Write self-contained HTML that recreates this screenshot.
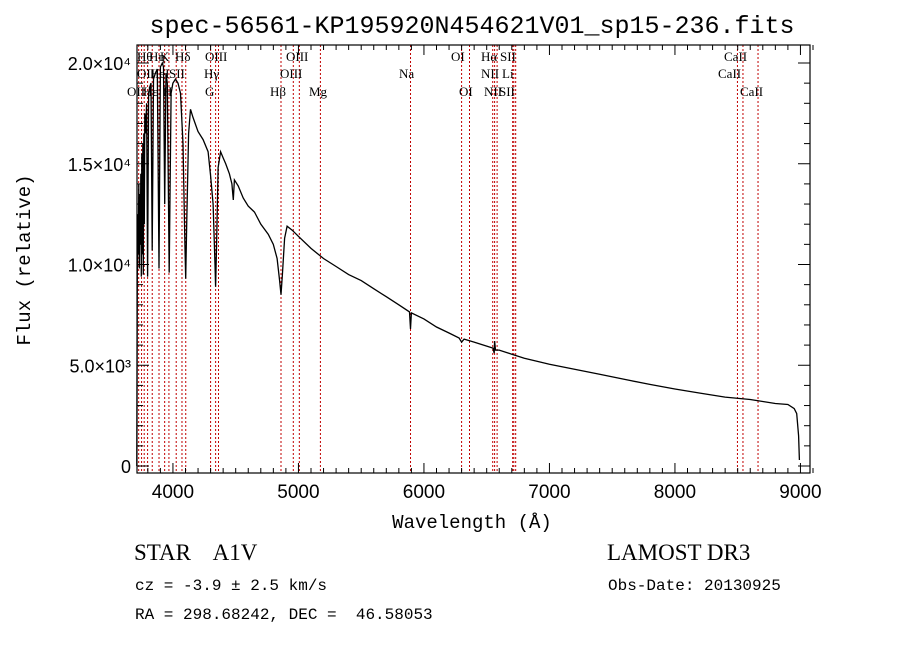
<!DOCTYPE html>
<html><head><meta charset="utf-8"><style>
html,body{margin:0;padding:0;background:#fff;}
svg{display:block;}
text{font-family:"Liberation Serif",serif;fill:#000;white-space:pre;}
.mono{font-family:"Liberation Mono","DejaVu Sans Mono",monospace;}
.sans{font-family:"Liberation Sans",sans-serif;}
</style></head><body>
<svg id="chart" width="900" height="649" viewBox="0 0 900 649" xmlns="http://www.w3.org/2000/svg" xml:space="preserve">
<rect width="900" height="649" fill="#fff"/>
<text class="mono" x="472" y="33" font-size="25" text-anchor="middle">spec-56561-KP195920N454621V01_sp15-236.fits</text>
<g id="lines"></g>
<g id="spec"></g>
<g id="axes"></g>
<g id="labels"></g>
<text class="mono" x="472" y="528" font-size="19" text-anchor="middle">Wavelength (Å)</text>
<text class="mono" x="0" y="0" font-size="19" text-anchor="middle" transform="translate(30,260) rotate(-90)">Flux (relative)</text>
<text x="134" y="560" font-size="23">STAR    A1V</text>
<text x="607" y="560" font-size="23">LAMOST DR3</text>
<text class="mono" x="135" y="590" font-size="16">cz = -3.9 ± 2.5 km/s</text>
<text class="mono" x="135" y="619" font-size="16">RA = 298.68242, DEC =  46.58053</text>
<text class="mono" x="608" y="590" font-size="16">Obs-Date: 20130925</text>
</svg>
<script>
const wavelengths=[3712,3716,3720,3724,3728,3732,3736,3740,3744,3748,3752,3756,3760,3764,3768,3772,3776,3782,3790,3798,3806,3815,3825,3835,3845,3860,3875,3889,3900,3915,3925,3934,3945,3955,3970,3985,4000,4020,4040,4060,4080,4095,4102,4110,4125,4140,4160,4200,4240,4280,4300,4320,4335,4340,4348,4360,4380,4400,4420,4450,4470,4481,4490,4520,4560,4600,4650,4700,4760,4800,4830,4850,4861,4872,4890,4910,4950,5000,5100,5200,5300,5400,5500,5600,5700,5800,5885,5893,5900,6000,6100,6200,6280,6300,6320,6400,6500,6550,6560,6563,6570,6600,6700,6800,6900,7000,7200,7400,7600,7800,8000,8200,8400,8600,8700,8800,8900,8950,8970,8985,8992];
const fluxes=[0,9500,12500,10500,14000,9800,13500,11000,14500,9400,15500,10500,16000,9500,16500,12000,17500,16500,18000,9400,18500,18800,19000,10700,19200,19500,19700,9800,19800,20000,19800,13000,19500,19000,9600,18500,19000,19200,19000,18500,16000,11000,9300,12000,16500,17700,17300,16600,16200,15600,14400,13000,10000,8900,11000,14800,15600,15300,15000,14500,14000,13200,14200,13900,13300,12900,12600,12000,11500,11000,10300,9200,8500,9500,11300,11900,11700,11400,10800,10300,9900,9500,9200,8800,8400,8000,7650,6800,7600,7300,6900,6600,6350,6150,6300,6150,5950,5850,5600,6200,5750,5750,5550,5350,5200,5050,4800,4550,4300,4050,3820,3620,3420,3300,3200,3100,3050,2850,2600,1500,300];
const lineWaves=[3727,3750,3771,3798,3835,3889,3934,3968,4026,4072,4102,4300,4340,4363,4861,4959,5007,5175,5893,6300,6363,6548,6563,6583,6707,6716,6731,8498,8542,8662];
const xTicks=[4000,5000,6000,7000,8000,9000];
const yTicks=[0,5000,10000,15000,20000];
const yTickLabels=["0","5.0×10³","1.0×10⁴","1.5×10⁴","2.0×10⁴"];
const lineLabels=[
 ["Hθ",137,61],["Hη",149,61],["K",160,61],["Hδ",175,61],["OIII",205,61],["OIII",286,61],["OI",451,61],["Hα",481,61],["SII",500,61],["CaII",724,61],
 ["OII",137,78],["HeI",150,78],["SII",169,78],["Hγ",204,78],["OIII",280,78],["Na",399,78],["NII",481,78],["Li",502,78],["CaII",718,78],
 ["OII",127,96],["Hε",143,96],["H",163,96],["G",205,96],["Hβ",270,96],["Mg",309,96],["OI",459,96],["NII",484,96],["SII",499,96],["CaII",740,96]];
const L=137,R=810,T=45,B=473;
function xs(w){return 281+(w-4861)*0.1255;}
function ys(f){return 466-f*0.02015;}
const NS="http://www.w3.org/2000/svg";
function mk(tag,attrs,parent){const e=document.createElementNS(NS,tag);for(const k in attrs)e.setAttribute(k,attrs[k]);parent.appendChild(e);return e;}
const gL=document.getElementById('lines');
lineWaves.forEach(w=>{
 const l=mk('line',{x1:xs(w),x2:xs(w),y1:T,y2:B,stroke:'#c00000','stroke-width':1,'stroke-dasharray':'2,2'},gL);
 
 
});
const gS=document.getElementById('spec');
let d='';
wavelengths.forEach((w,i)=>{d+=(i?'L':'M')+xs(w).toFixed(1)+','+ys(fluxes[i]).toFixed(1);});
const p=mk('path',{d:d,fill:'none',stroke:'#000','stroke-width':1.3},gS);


const gA=document.getElementById('axes');
const box=mk('rect',{x:L,y:T,width:R-L,height:B-T,fill:'none',stroke:'#000','stroke-width':1.2},gA);


for(let w=3800;w<=9100;w+=100){
 const major=w%1000===0, len=major?10:5;
 mk('line',{x1:xs(w),x2:xs(w),y1:B,y2:B-len,stroke:'#000'},gA);
 mk('line',{x1:xs(w),x2:xs(w),y1:T,y2:T+len,stroke:'#000'},gA);
}
for(let f=0;f<=20000;f+=1000){
 const major=f%5000===0,len=major?12:6;
 mk('line',{x1:L,x2:L+len,y1:ys(f),y2:ys(f),stroke:'#000'},gA);
 mk('line',{x1:R,x2:R-len,y1:ys(f),y2:ys(f),stroke:'#000'},gA);
}
xTicks.forEach(w=>{
 const t=mk('text',{x:xs(w),y:B+25,'font-size':19,'text-anchor':'middle',class:'sans'},gA);
 t.textContent=w;
 
 
});
yTicks.forEach((f,i)=>{
 const t=mk('text',{x:L-6,y:ys(f)+7,'font-size':18,'text-anchor':'end',class:'sans'},gA);
 t.textContent=yTickLabels[i];
 
 
});
const gT=document.getElementById('labels');
lineLabels.forEach(a=>{
 const t=mk('text',{x:a[1],y:a[2],'font-size':13},gT);
 t.textContent=a[0];
 
 
});
</script>
</body></html>
